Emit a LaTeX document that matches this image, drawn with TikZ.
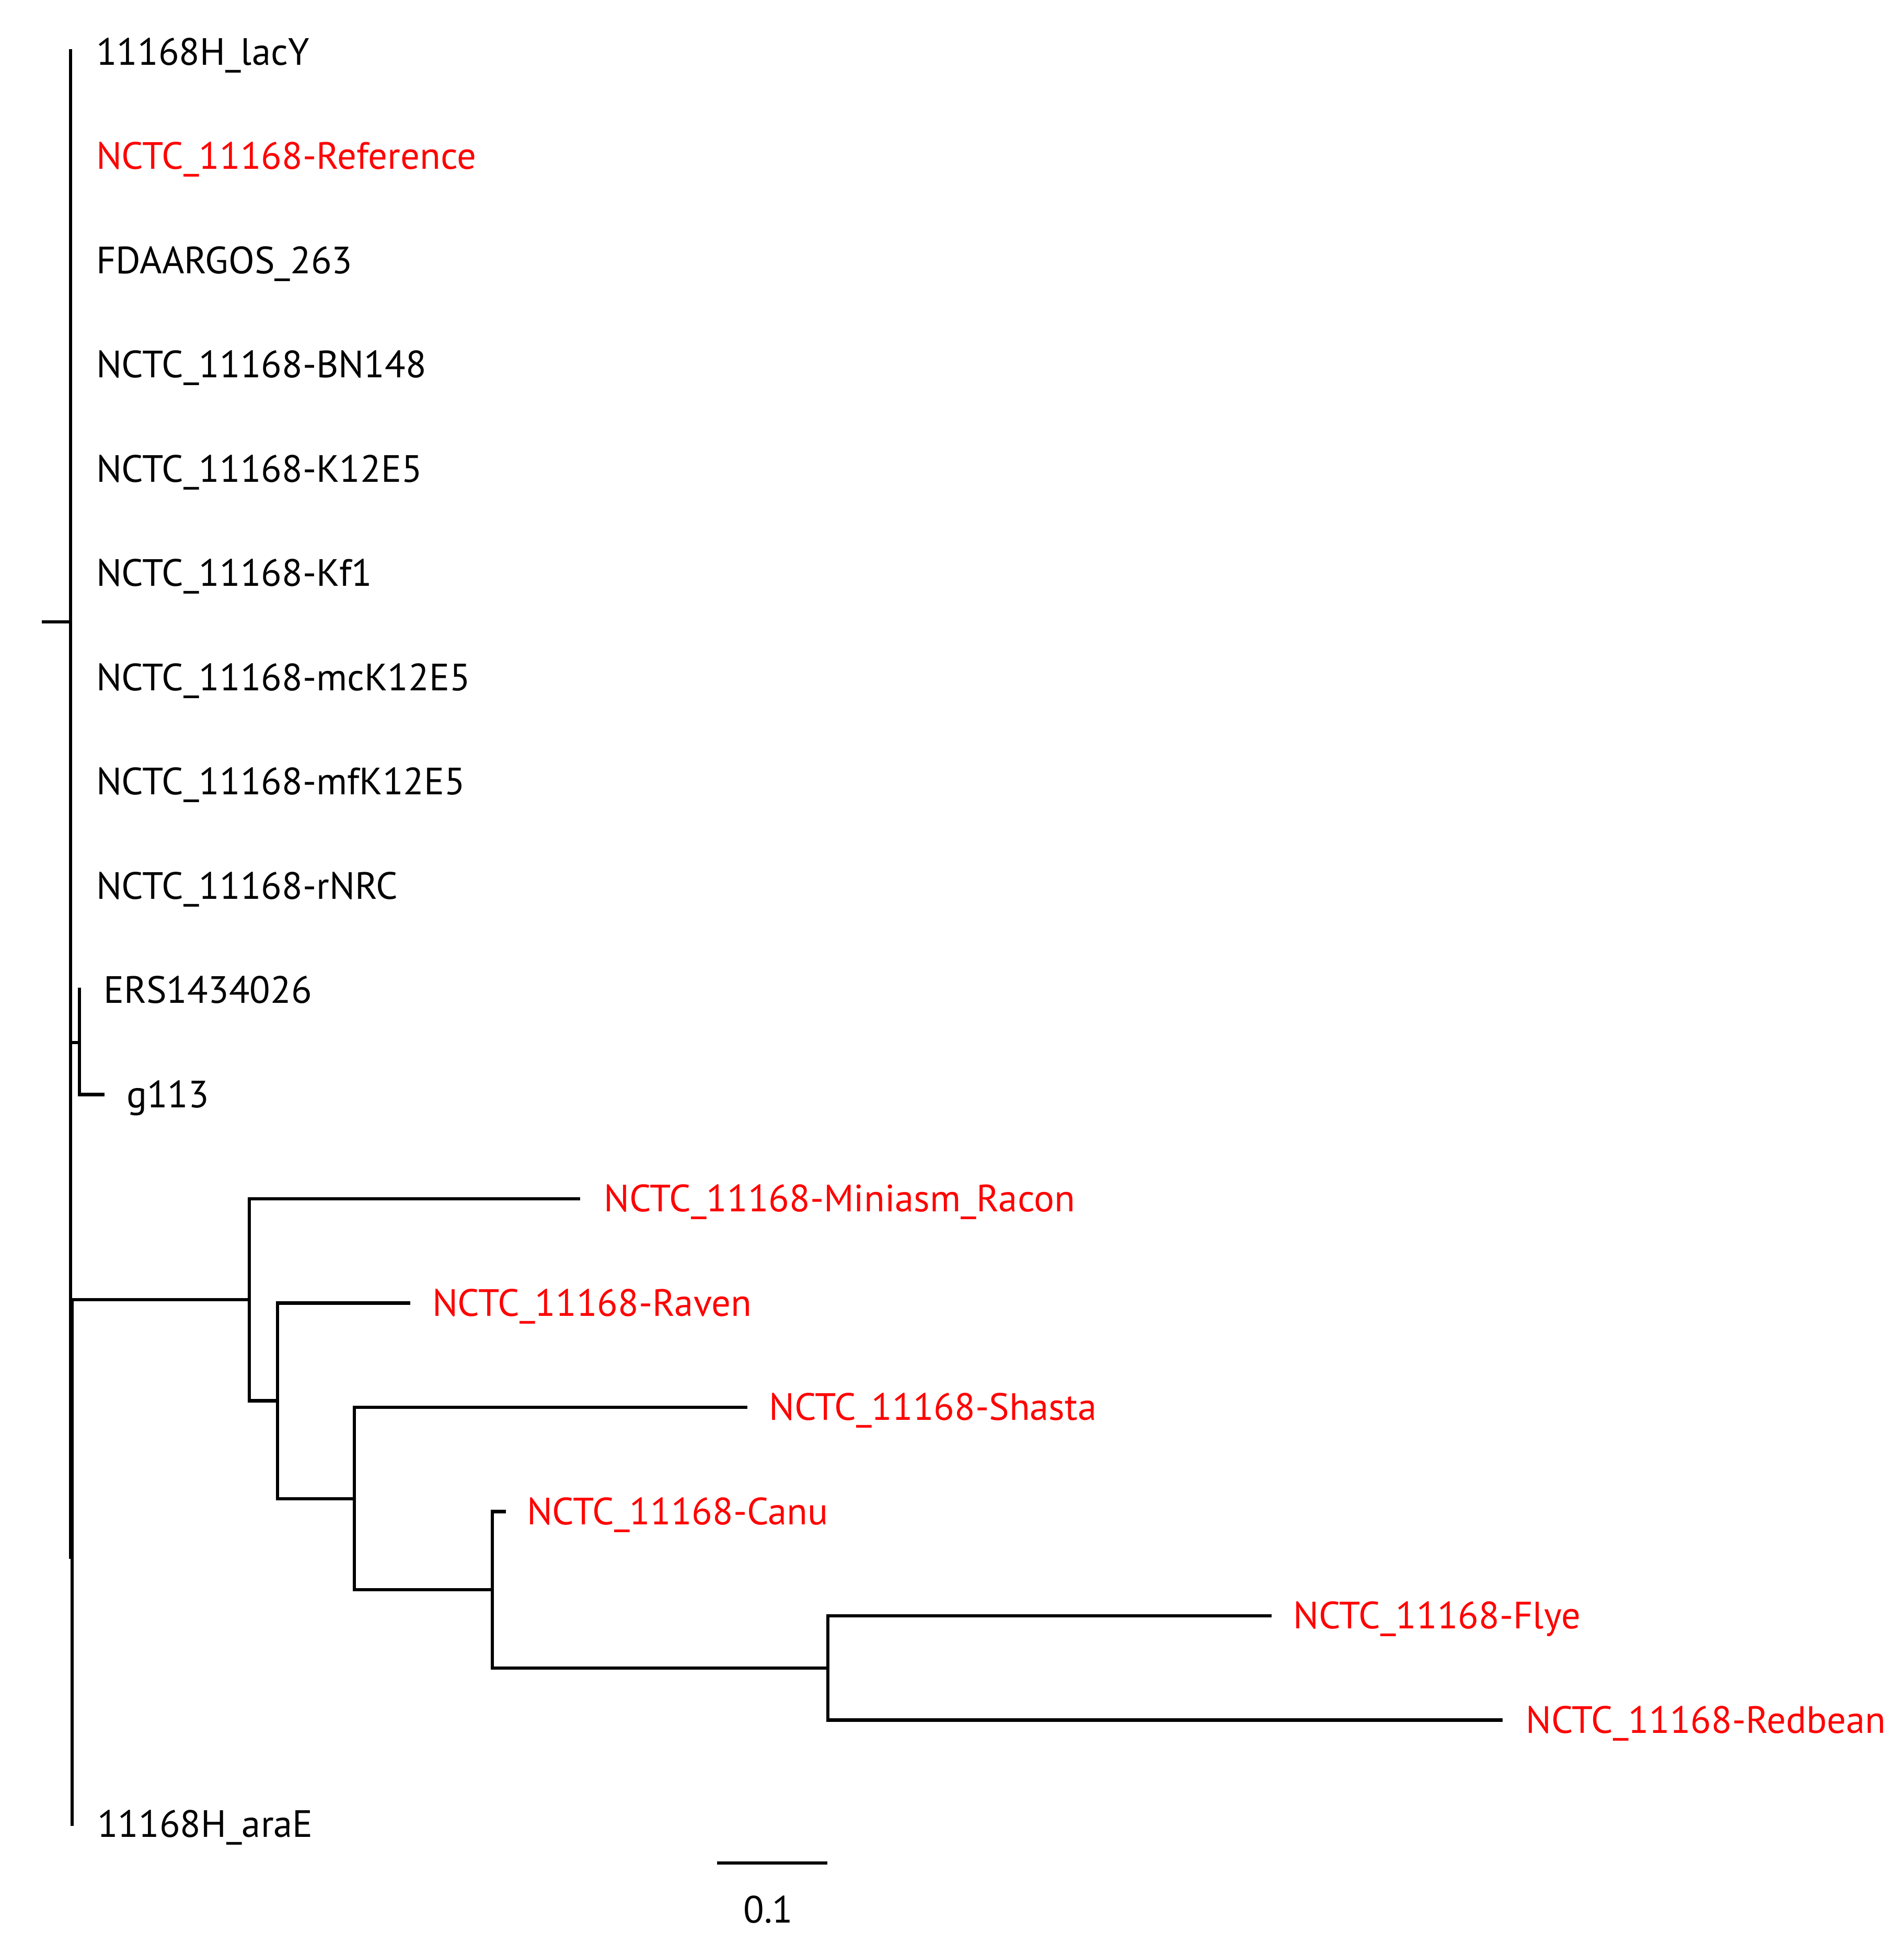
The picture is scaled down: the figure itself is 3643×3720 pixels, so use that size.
\documentclass[tikz,border=0pt]{standalone}
\usepackage{fontspec}
\setmainfont{PT Sans}
\definecolor{tred}{RGB}{255,0,0}
\begin{document}
\begin{tikzpicture}[x=0.01cm,y=-0.01cm,
  br/.style={line width=0.062cm, black},
  lbl/.style={anchor=base west, inner sep=0pt, outer sep=0pt, font=\fontsize{20.7}{24}\selectfont},
  lblred/.style={lbl, text=tred},
  lblc/.style={lbl, anchor=base}]
\useasboundingbox (0,0) rectangle (3643,3720);
% coordinates of tree
\coordinate (rootL) at (80,1190);
\coordinate (root) at (135,1190);
\coordinate (mainTop) at (135,94);
\coordinate (mainBot) at (135,2983);
\coordinate (sub) at (138,2487);
\coordinate (araE) at (138,3494);
\coordinate (ersN) at (135,1995);
\coordinate (ersV) at (152,1995);
\coordinate (ersTip) at (152,1890);
\coordinate (gTip) at (200,2094.5);
\coordinate (A) at (477,2487);
\coordinate (B) at (531,2680.5);
\coordinate (C) at (678,2867.6);
\coordinate (D) at (942,3042);
\coordinate (E) at (1584,3191.75);
\coordinate (miniTip) at (1110,2294);
\coordinate (ravenTip) at (785,2493.5);
\coordinate (shastaTip) at (1430,2693);
\coordinate (canuTip) at (968,2892.5);
\coordinate (flyeTip) at (2433,3092);
\coordinate (redTip) at (2875,3291.5);
\coordinate (sb1) at (1372,3565);
\coordinate (sb2) at (1583,3565);
% branches
\draw[br] (rootL) -- (root);
\draw[br] (mainTop) -- (mainBot);
\draw[br] (sub |- A) -- (araE);
\draw[br] (sub) -- (A);
\draw[br] (ersN) -- (ersV);
\draw[br] (ersV) -- (ersTip);
\draw[br] (ersV) |- (gTip);
\draw[br] (A) |- (miniTip);
\draw[br] (A) |- (B);
\draw[br] (B) |- (ravenTip);
\draw[br] (B) |- (C);
\draw[br] (C) |- (shastaTip);
\draw[br] (C) |- (D);
\draw[br] (D) |- (canuTip);
\draw[br] (D) |- (E);
\draw[br] (E) |- (flyeTip);
\draw[br] (E) |- (redTip);
\draw[br] (sb1) -- (sb2);
% labels (baseline = row + 24)
\node[lbl] (t0) at (184,124) {11168H\_lacY};
\node[lblred] (t1) at (184,323.5) {NCTC\_11168-Reference};
\node[lbl] (t2) at (184,523) {FDAARGOS\_263};
\node[lbl] (t3) at (184,722.5) {NCTC\_11168-BN148};
\node[lbl] (t4) at (184,922) {NCTC\_11168-K12E5};
\node[lbl] (t5) at (184,1121.5) {NCTC\_11168-Kf1};
\node[lbl] (t6) at (184,1321) {NCTC\_11168-mcK12E5};
\node[lbl] (t7) at (184,1520.5) {NCTC\_11168-mfK12E5};
\node[lbl] (t8) at (184,1720) {NCTC\_11168-rNRC};
\node[lbl] (t9) at (198,1919.5) {ERS1434026};
\node[lbl] (t10) at (242,2119) {g113};
\node[lblred] (t11) at (1155,2318.5) {NCTC\_11168-Miniasm\_Racon};
\node[lblred] (t12) at (827,2518) {NCTC\_11168-Raven};
\node[lblred] (t13) at (1471,2717.5) {NCTC\_11168-Shasta};
\node[lblred] (t14) at (1008,2917) {NCTC\_11168-Canu};
\node[lblred] (t15) at (2474,3116.5) {NCTC\_11168-Flye};
\node[lblred] (t16) at (2919,3316) {NCTC\_11168-Redbean};
\node[lbl] (t17) at (186,3515.5) {11168H\_araE};
\node[lblc] (sbl) at (1470,3679) {0.1};
\end{tikzpicture}
\end{document}
